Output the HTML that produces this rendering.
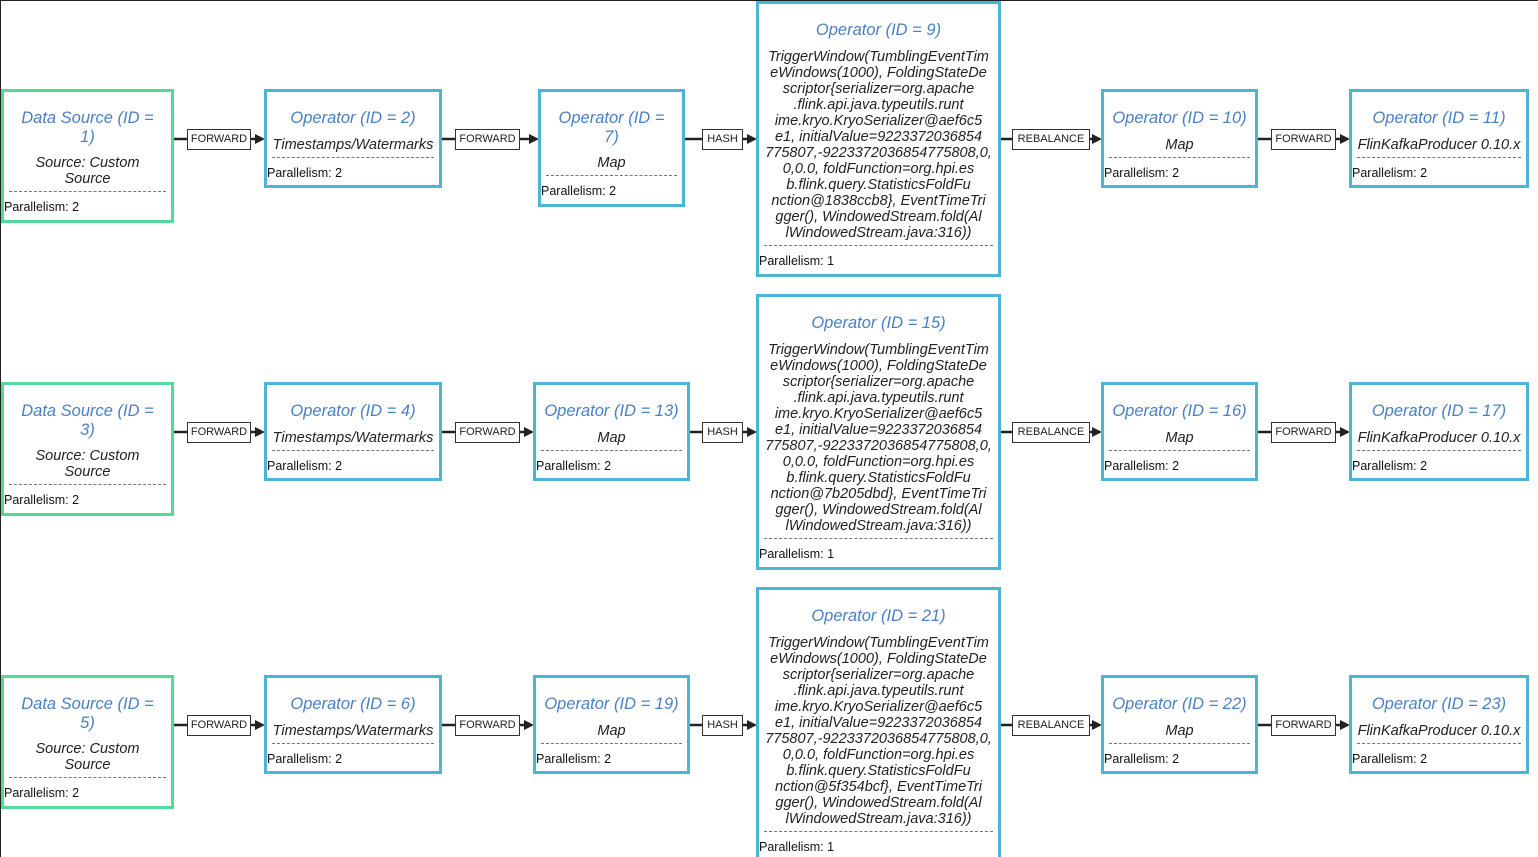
<!DOCTYPE html>
<html style="width:1538px;height:857px;overflow:hidden"><head><meta charset="utf-8"><style>
*{margin:0;padding:0;box-sizing:border-box}
body{width:1538px;height:857px;background:#fff;position:relative;overflow:hidden;font-family:"Liberation Sans",sans-serif}
.b{position:absolute;border:3px solid #4cb5d5;background:#fff}
.g{border-color:#52da98}
.b div{position:absolute;left:0;right:0;text-align:center;white-space:nowrap;margin-top:2px}
.t{font-style:italic;color:#4a80c4;font-size:16.5px;line-height:19px}
.s{font-style:italic;color:#222;font-size:14.5px;line-height:16px}
.d{height:0;border-top:1px dashed #777;left:5px!important;right:5px!important}
.p{font-size:12.5px;line-height:16px;color:#111;text-align:left!important;left:0!important}
.l{position:absolute;border:1px solid #333;background:#fff;font-size:11px;height:21px;line-height:19px;text-align:center;color:#222}
svg{position:absolute;left:0;top:0}
</style></head><body>
<div style="position:absolute;left:0;top:0;width:1538px;height:1px;background:#222"></div>
<div style="position:absolute;left:0;top:0;width:1px;height:857px;background:#222"></div>
<svg width="1538" height="857">
<g stroke="#222" stroke-width="2.5" fill="none">
<path d="M173 139H256M441 139H530M684 139H748M1000 139H1093M1257 139H1341"/>
<path d="M173 432H256M441 432H525M689 432H748M1000 432H1093M1257 432H1341"/>
<path d="M173 725H256M441 725H525M689 725H748M1000 725H1093M1257 725H1341"/>
</g>
<g fill="#222">
<path d="M255 134L265 139L255 144ZM529 134L539 139L529 144ZM747 134L757 139L747 144ZM1092 134L1102 139L1092 144ZM1340 134L1350 139L1340 144Z"/>
<path d="M255 427L265 432L255 437ZM524 427L534 432L524 437ZM747 427L757 432L747 437ZM1092 427L1102 432L1092 437ZM1340 427L1350 432L1340 437Z"/>
<path d="M255 720L265 725L255 730ZM524 720L534 725L524 730ZM747 720L757 725L747 730ZM1092 720L1102 725L1092 730ZM1340 720L1350 725L1340 730Z"/>
</g></svg>

<div class="l" style="left:187px;top:129px;width:64px">FORWARD</div>
<div class="l" style="left:455px;top:129px;width:65px">FORWARD</div>
<div class="l" style="left:702px;top:129px;width:41px">HASH</div>
<div class="l" style="left:1012px;top:129px;width:78px">REBALANCE</div>
<div class="l" style="left:1271px;top:129px;width:65px">FORWARD</div>
<div class="l" style="left:187px;top:422px;width:64px">FORWARD</div>
<div class="l" style="left:455px;top:422px;width:65px">FORWARD</div>
<div class="l" style="left:702px;top:422px;width:41px">HASH</div>
<div class="l" style="left:1012px;top:422px;width:78px">REBALANCE</div>
<div class="l" style="left:1271px;top:422px;width:65px">FORWARD</div>
<div class="l" style="left:187px;top:715px;width:64px">FORWARD</div>
<div class="l" style="left:455px;top:715px;width:65px">FORWARD</div>
<div class="l" style="left:702px;top:715px;width:41px">HASH</div>
<div class="l" style="left:1012px;top:715px;width:78px">REBALANCE</div>
<div class="l" style="left:1271px;top:715px;width:65px">FORWARD</div>

<div class="b g" style="left:1px;top:89px;width:173px;height:134px">
<div class="t" style="top:15px">Data Source (ID =<br>1)</div>
<div class="s" style="top:61px">Source: Custom<br>Source</div>
<div class="d" style="top:97px"></div><div class="p" style="top:105px">Parallelism: 2</div></div>
<div class="b" style="left:264px;top:89px;width:178px;height:99px">
<div class="t" style="top:15px">Operator (ID = 2)</div>
<div class="s" style="top:43px">Timestamps/Watermarks</div>
<div class="d" style="top:63px"></div><div class="p" style="top:71px">Parallelism: 2</div></div>
<div class="b" style="left:538px;top:89px;width:147px;height:118px">
<div class="t" style="top:15px">Operator (ID =<br>7)</div>
<div class="s" style="top:61px">Map</div>
<div class="d" style="top:81px"></div><div class="p" style="top:89px">Parallelism: 2</div></div>
<div class="b" style="left:756px;top:1px;width:245px;height:276px">
<div class="t" style="top:15px">Operator (ID = 9)</div>
<div class="s" style="top:43px">TriggerWindow(TumblingEventTim<br>eWindows(1000), FoldingStateDe<br>scriptor{serializer=org.apache<br>.flink.api.java.typeutils.runt<br>ime.kryo.KryoSerializer@aef6c5<br>e1, initialValue=9223372036854<br>775807,-9223372036854775808,0,<br>0,0.0, foldFunction=org.hpi.es<br>b.flink.query.StatisticsFoldFu<br>nction@1838ccb8}, EventTimeTri<br>gger(), WindowedStream.fold(Al<br>lWindowedStream.java:316))</div>
<div class="d" style="top:239px"></div><div class="p" style="top:247px">Parallelism: 1</div></div>
<div class="b" style="left:1101px;top:89px;width:157px;height:99px">
<div class="t" style="top:15px">Operator (ID = 10)</div>
<div class="s" style="top:43px">Map</div>
<div class="d" style="top:63px"></div><div class="p" style="top:71px">Parallelism: 2</div></div>
<div class="b" style="left:1349px;top:89px;width:180px;height:99px">
<div class="t" style="top:15px">Operator (ID = 11)</div>
<div class="s" style="top:43px">FlinKafkaProducer 0.10.x</div>
<div class="d" style="top:63px"></div><div class="p" style="top:71px">Parallelism: 2</div></div>

<div class="b g" style="left:1px;top:382px;width:173px;height:134px">
<div class="t" style="top:15px">Data Source (ID =<br>3)</div>
<div class="s" style="top:61px">Source: Custom<br>Source</div>
<div class="d" style="top:97px"></div><div class="p" style="top:105px">Parallelism: 2</div></div>
<div class="b" style="left:264px;top:382px;width:178px;height:99px">
<div class="t" style="top:15px">Operator (ID = 4)</div>
<div class="s" style="top:43px">Timestamps/Watermarks</div>
<div class="d" style="top:63px"></div><div class="p" style="top:71px">Parallelism: 2</div></div>
<div class="b" style="left:533px;top:382px;width:157px;height:99px">
<div class="t" style="top:15px">Operator (ID = 13)</div>
<div class="s" style="top:43px">Map</div>
<div class="d" style="top:63px"></div><div class="p" style="top:71px">Parallelism: 2</div></div>
<div class="b" style="left:756px;top:294px;width:245px;height:276px">
<div class="t" style="top:15px">Operator (ID = 15)</div>
<div class="s" style="top:43px">TriggerWindow(TumblingEventTim<br>eWindows(1000), FoldingStateDe<br>scriptor{serializer=org.apache<br>.flink.api.java.typeutils.runt<br>ime.kryo.KryoSerializer@aef6c5<br>e1, initialValue=9223372036854<br>775807,-9223372036854775808,0,<br>0,0.0, foldFunction=org.hpi.es<br>b.flink.query.StatisticsFoldFu<br>nction@7b205dbd}, EventTimeTri<br>gger(), WindowedStream.fold(Al<br>lWindowedStream.java:316))</div>
<div class="d" style="top:239px"></div><div class="p" style="top:247px">Parallelism: 1</div></div>
<div class="b" style="left:1101px;top:382px;width:157px;height:99px">
<div class="t" style="top:15px">Operator (ID = 16)</div>
<div class="s" style="top:43px">Map</div>
<div class="d" style="top:63px"></div><div class="p" style="top:71px">Parallelism: 2</div></div>
<div class="b" style="left:1349px;top:382px;width:180px;height:99px">
<div class="t" style="top:15px">Operator (ID = 17)</div>
<div class="s" style="top:43px">FlinKafkaProducer 0.10.x</div>
<div class="d" style="top:63px"></div><div class="p" style="top:71px">Parallelism: 2</div></div>

<div class="b g" style="left:1px;top:675px;width:173px;height:134px">
<div class="t" style="top:15px">Data Source (ID =<br>5)</div>
<div class="s" style="top:61px">Source: Custom<br>Source</div>
<div class="d" style="top:97px"></div><div class="p" style="top:105px">Parallelism: 2</div></div>
<div class="b" style="left:264px;top:675px;width:178px;height:99px">
<div class="t" style="top:15px">Operator (ID = 6)</div>
<div class="s" style="top:43px">Timestamps/Watermarks</div>
<div class="d" style="top:63px"></div><div class="p" style="top:71px">Parallelism: 2</div></div>
<div class="b" style="left:533px;top:675px;width:157px;height:99px">
<div class="t" style="top:15px">Operator (ID = 19)</div>
<div class="s" style="top:43px">Map</div>
<div class="d" style="top:63px"></div><div class="p" style="top:71px">Parallelism: 2</div></div>
<div class="b" style="left:756px;top:587px;width:245px;height:290px">
<div class="t" style="top:15px">Operator (ID = 21)</div>
<div class="s" style="top:43px">TriggerWindow(TumblingEventTim<br>eWindows(1000), FoldingStateDe<br>scriptor{serializer=org.apache<br>.flink.api.java.typeutils.runt<br>ime.kryo.KryoSerializer@aef6c5<br>e1, initialValue=9223372036854<br>775807,-9223372036854775808,0,<br>0,0.0, foldFunction=org.hpi.es<br>b.flink.query.StatisticsFoldFu<br>nction@5f354bcf}, EventTimeTri<br>gger(), WindowedStream.fold(Al<br>lWindowedStream.java:316))</div>
<div class="d" style="top:239px"></div><div class="p" style="top:247px">Parallelism: 1</div></div>
<div class="b" style="left:1101px;top:675px;width:157px;height:99px">
<div class="t" style="top:15px">Operator (ID = 22)</div>
<div class="s" style="top:43px">Map</div>
<div class="d" style="top:63px"></div><div class="p" style="top:71px">Parallelism: 2</div></div>
<div class="b" style="left:1349px;top:675px;width:180px;height:99px">
<div class="t" style="top:15px">Operator (ID = 23)</div>
<div class="s" style="top:43px">FlinKafkaProducer 0.10.x</div>
<div class="d" style="top:63px"></div><div class="p" style="top:71px">Parallelism: 2</div></div>
</body></html>
